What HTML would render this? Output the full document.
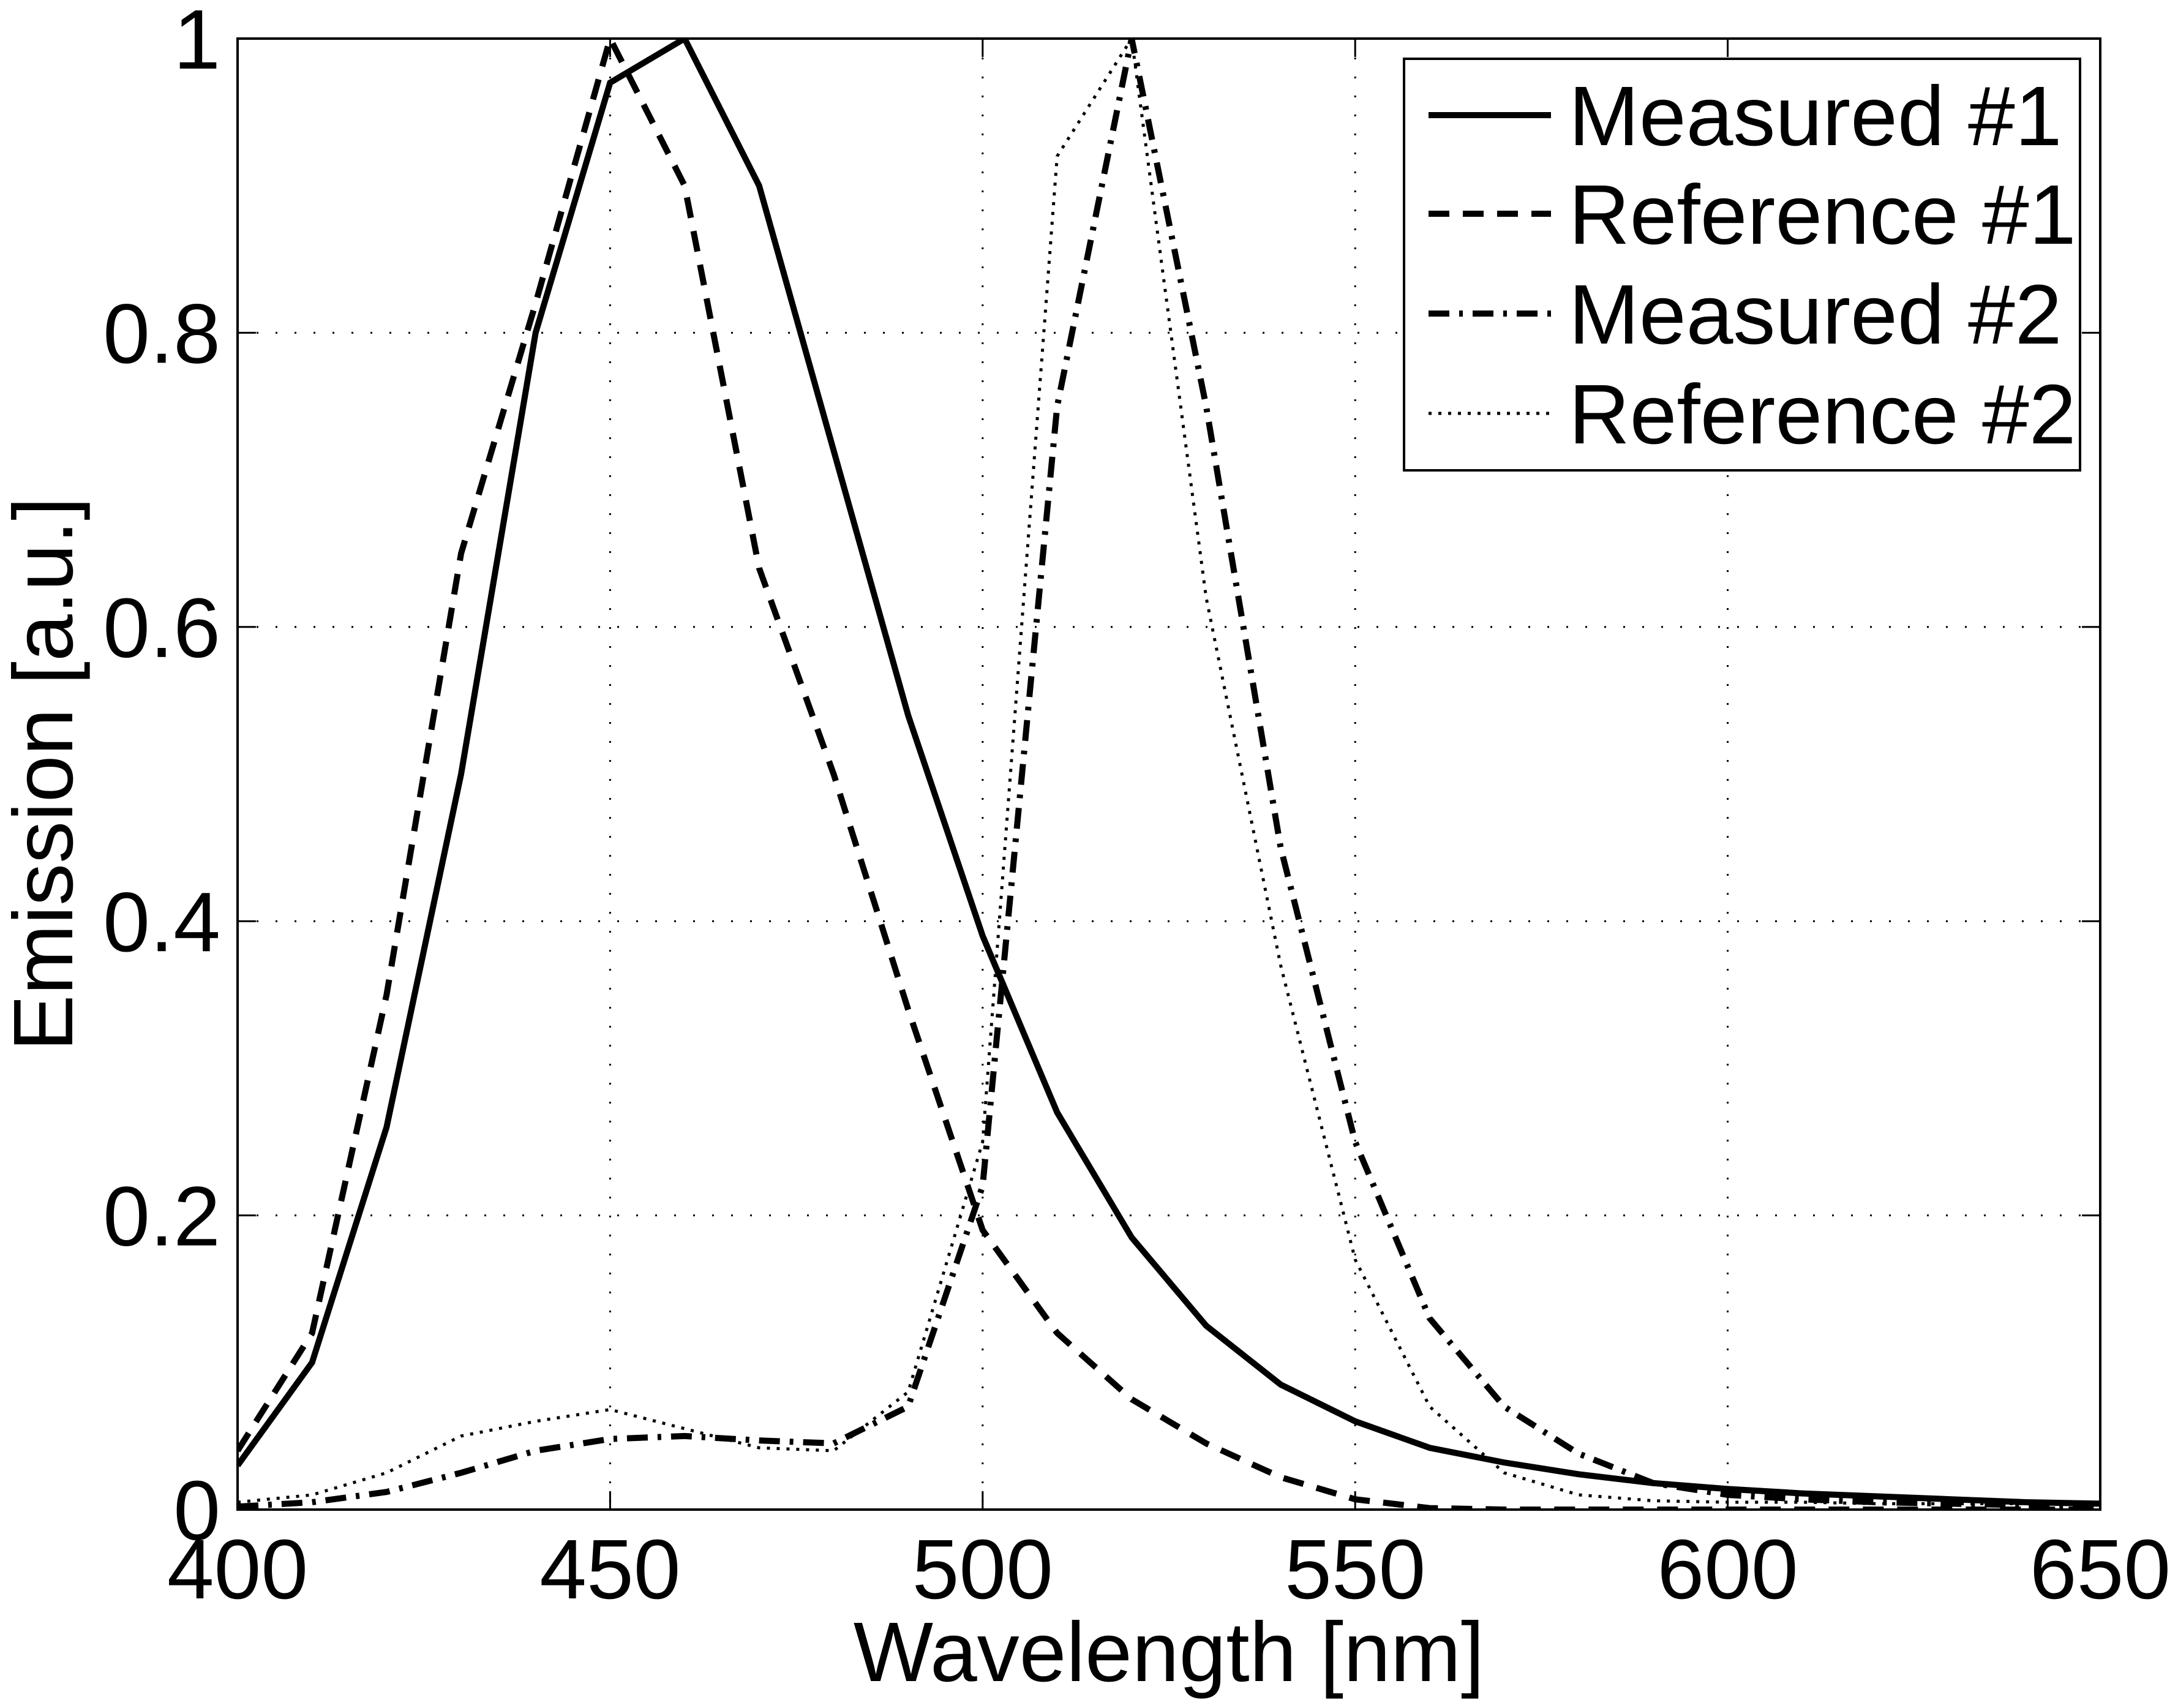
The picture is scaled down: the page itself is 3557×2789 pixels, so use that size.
<!DOCTYPE html>
<html><head><meta charset="utf-8"><style>
html,body{margin:0;padding:0;background:#fff}
svg{display:block}
text{font-family:"Liberation Sans",Arial,sans-serif;fill:#000}
</style></head><body>
<svg id="chart" width="3557" height="2789" viewBox="0 0 3557 2789" xmlns="http://www.w3.org/2000/svg">
<g id="grid"></g>
<g id="series"></g>
<g id="axes"></g>
<text x="1909" y="2745" font-size="138" text-anchor="middle">Wavelength [nm]</text>
<text transform="translate(118,1264) rotate(-90)" font-size="138" text-anchor="middle">Emission [a.u.]</text>
<g id="legend"></g>
</svg>
<script>
const wavelengths=[400,410,420,430,440,450,460,470,480,490,500,510,520,530,540,550,560,570,580,590,600,610,620,630,640,650];
const measured1=[0.03,0.10,0.26,0.50,0.80,0.97,1.0,0.90,0.72,0.54,0.39,0.27,0.185,0.125,0.085,0.06,0.042,0.032,0.024,0.018,0.014,0.011,0.009,0.007,0.005,0.004];
const reference1=[0.04,0.12,0.35,0.65,0.82,1.0,0.9,0.64,0.50,0.34,0.19,0.12,0.075,0.045,0.022,0.007,0.001,0,0,0,0,0,0,0,0,0];
const measured2=[0.002,0.005,0.012,0.025,0.04,0.048,0.05,0.047,0.045,0.07,0.22,0.75,1.0,0.75,0.45,0.25,0.13,0.07,0.038,0.018,0.01,0.007,0.005,0.004,0.003,0.002];
const reference2=[0.005,0.01,0.025,0.05,0.06,0.068,0.055,0.042,0.04,0.08,0.25,0.92,1.0,0.62,0.37,0.17,0.07,0.025,0.01,0.006,0.005,0.005,0.004,0.004,0.004,0.004];
const xTicks=[400,450,500,550,600,650];
const yTicks=[0,0.2,0.4,0.6,0.8,1];
const yTickLabels=["0","0.2","0.4","0.6","0.8","1"];
const legendLabels=["Measured #1","Reference #1","Measured #2","Reference #2"];

const L=388,R=3430,T=63,B=2465;
const NS="http://www.w3.org/2000/svg";
function sx(v){return L+(v-400)/(650-400)*(R-L);}
function sy(v){return B-v*(B-T);}
function mk(tag,attrs,parent){const e=document.createElementNS(NS,tag);for(const k in attrs)e.setAttribute(k,attrs[k]);parent.appendChild(e);return e;}
const grid=document.getElementById('grid'),axes=document.getElementById('axes'),ser=document.getElementById('series'),leg=document.getElementById('legend');

xTicks.forEach((t,i)=>{
  const x=sx(t);
  if(i>0&&i<xTicks.length-1){
    const g=mk('line',{x1:x,y1:T,x2:x,y2:B,stroke:'#000','stroke-width':3,'stroke-dasharray':'3 28'},grid);
    
    
  }
  const tk=mk('line',{x1:x,y1:B,x2:x,y2:B-30,stroke:'#000','stroke-width':3},axes);
  
  
  const tk2=mk('line',{x1:x,y1:T,x2:x,y2:T+30,stroke:'#000','stroke-width':3},axes);
  
  
  const lb=mk('text',{x:x,y:2610,'font-size':138,'text-anchor':'middle'},axes);
  lb.textContent=t;
  
  
});
yTicks.forEach((t,i)=>{
  const y=sy(t);
  if(i>0&&i<yTicks.length-1){
    const g=mk('line',{x1:L,y1:y,x2:R,y2:y,stroke:'#000','stroke-width':3,'stroke-dasharray':'3 28'},grid);
    
    
  }
  const tk=mk('line',{x1:L,y1:y,x2:L+30,y2:y,stroke:'#000','stroke-width':3},axes);
  
  
  const tk2=mk('line',{x1:R,y1:y,x2:R-30,y2:y,stroke:'#000','stroke-width':3},axes);
  
  
  const lb=mk('text',{x:360,y:y+49,'font-size':138,'text-anchor':'end'},axes);
  lb.textContent=yTickLabels[i];
  
  
});
const frame=mk('rect',{x:L,y:T,width:R-L,height:B-T,fill:'none',stroke:'#000','stroke-width':4},axes);



const styles=[
  {data:measured1,w:10,dash:'',name:'measured-1-line'},
  {data:reference1,w:10,dash:'34 22',name:'reference-1-line'},
  {data:measured2,w:10,dash:'34 16 6 16',name:'measured-2-line'},
  {data:reference2,w:5,dash:'5 11',name:'reference-2-line'}
];
const cp=mk('clipPath',{id:'clip'},ser);
mk('rect',{x:L,y:T,width:R-L,height:B-T},cp);
styles.forEach(s=>{
  const pts=wavelengths.map((w,i)=>sx(w)+','+sy(s.data[i])).join(' ');
  const p=mk('polyline',{points:pts,fill:'none',stroke:'#000','stroke-width':s.w,'stroke-dasharray':s.dash,'stroke-linejoin':'miter','clip-path':'url(#clip)'},ser);
  
  
});

const box=mk('rect',{x:2293,y:96,width:1104,height:672,fill:'#fff',stroke:'#000','stroke-width':4},leg);


const rowsY=[237,398,561,724];
legendLabels.forEach((lab,i)=>{
  const s=styles[i];
  const ly=rowsY[i]-49;
  const ln=mk('line',{x1:2333,y1:ly,x2:2533,y2:ly,stroke:'#000','stroke-width':s.w,'stroke-dasharray':s.dash},leg);
  
  
  const t=mk('text',{x:2562,y:rowsY[i],'font-size':138},leg);
  t.textContent=lab;
  
  
});
</script>
</body></html>
